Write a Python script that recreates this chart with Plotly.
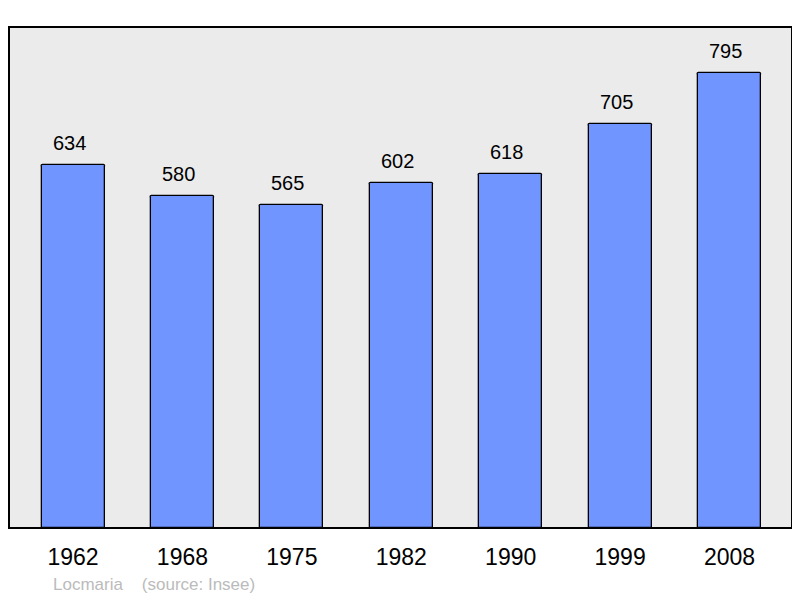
import plotly.graph_objects as go

# Population data
years = ['1962', '1968', '1975', '1982', '1990', '1999', '2008']
population = [634, 580, 565, 602, 618, 705, 795]

fig = go.Figure()
fig.add_trace(go.Bar(x=years, y=population, width=0.576,
                     marker=dict(color='#7095ff', line=dict(color='black', width=1.3), cornerradius=2),
                     hoverinfo='x+y'))

# value labels above bars (x as category index so "1962" isn't read as a number)
for i, val in enumerate(population):
    fig.add_annotation(x=i, y=val, text=str(val), showarrow=False, yanchor='bottom', yshift=9, xshift=-4,
                       font=dict(family='Liberation Sans, Arial', size=20, color='black'))

fig.add_annotation(xref='paper', yref='paper', x=0.0535, y=-0.112, xanchor='left', yanchor='middle',
                   text='Locmaria    (source: Insee)', showarrow=False,
                   font=dict(family='Liberation Sans, Arial', size=17, color='#bbbbbb'))

# plot frame
fig.add_shape(type='rect', xref='paper', yref='paper', x0=0, y0=0, x1=1, y1=1,
              line=dict(color='black', width=2), layer='above')

# page body has an 8px margin, so the figure is sized/offset to compensate
fig.update_layout(
    width=792, height=590,
    margin=dict(l=1, r=8, t=19, b=70),
    paper_bgcolor='white', plot_bgcolor='#ebebeb',
    showlegend=False,
    xaxis=dict(range=[-0.585, 6.571], showgrid=False, zeroline=False, ticks='',
               tickfont=dict(family='Liberation Sans, Arial', size=23, color='black'),
               ticklabelstandoff=13),
    yaxis=dict(range=[0, 875], showgrid=False, zeroline=False, showticklabels=False, ticks=''),
    bargap=0,
)

fig.write_html("out.html")
